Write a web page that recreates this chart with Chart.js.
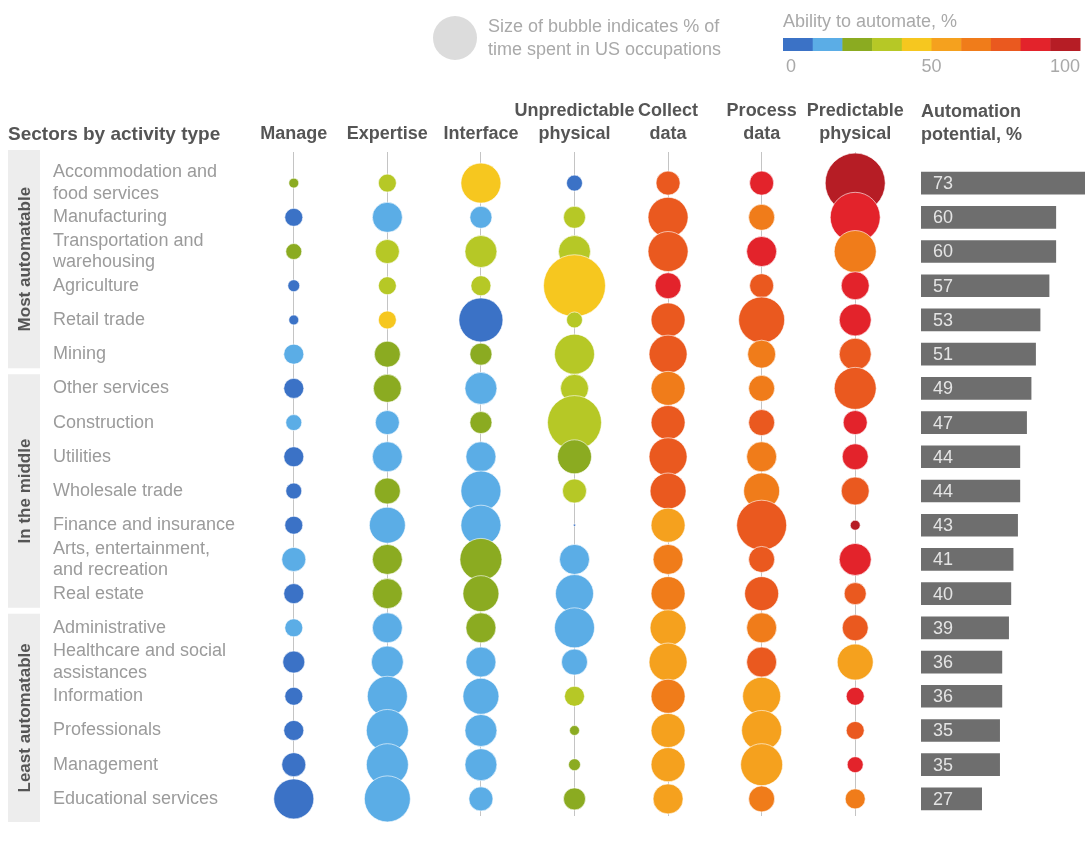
<!DOCTYPE html>
<html>
<head>
<meta charset="utf-8">
<script src="https://cdn.jsdelivr.net/npm/chart.js@4.4.0/dist/chart.umd.min.js"></script>
<style>
  body { margin: 0; background: #fff; }
  #wrap { position: relative; width: 1089px; height: 843px; }
  #bubbles, #bars { position: absolute; top: 0; }
  #bubbles { left: 0; }
  #bars { left: 905px; }
</style>
</head>
<body>
<div id="wrap">
  <canvas id="bubbles" width="1089" height="843"></canvas>
  <canvas id="bars" width="184" height="843"></canvas>
</div>
<script>
// Секторы (строки) и виды деятельности (столбцы)
const sectors = [
    ['Accommodation and', 'food services'],
    'Manufacturing',
    ['Transportation and', 'warehousing'],
    'Agriculture',
    'Retail trade',
    'Mining',
    'Other services',
    'Construction',
    'Utilities',
    'Wholesale trade',
    'Finance and insurance',
    ['Arts, entertainment,', 'and recreation'],
    'Real estate',
    'Administrative',
    ['Healthcare and social', 'assistances'],
    'Information',
    'Professionals',
    'Management',
    'Educational services'
];
const activities = ['Manage', 'Expertise', 'Interface', ['Unpredictable', 'physical'],
    ['Collect', 'data'], ['Process', 'data'], ['Predictable', 'physical']];

const groups = ['Most automatable', 'In the middle', 'Least automatable'];
const groupSizes = [6, 7, 6];

const automationPotential = [73, 60, 60, 57, 53, 51, 49, 47, 44, 44, 43, 41, 40, 39, 36, 36, 35, 35, 27];

// % времени (размер пузыря), оценка по картинке
const manageTime       = [2.0, 6.6, 5.2, 2.9, 2.0, 8.2, 8.2, 5.2, 8.2, 5.2, 6.6, 11.8, 8.2, 6.6, 9.9, 6.6, 8.2, 11.8, 32.7];
const expertiseTime    = [6.6, 18.4, 11.8, 6.6, 6.6, 13.8, 16, 11.8, 18.4, 13.8, 26.4, 18.4, 18.4, 18.4, 20.9, 32.7, 36, 36, 43.2];
const interfaceTime    = [32.7, 9.9, 20.9, 8.2, 39.5, 9.9, 20.9, 9.9, 18.4, 32.7, 32.7, 36, 26.4, 18.4, 18.4, 26.4, 20.9, 20.9, 11.8];
const unpredictTime    = [5.2, 9.9, 20.9, 78.4, 5.2, 32.7, 16, 59.5, 23.6, 11.8, 0.1, 18.4, 29.5, 32.7, 13.8, 8.2, 2.0, 2.9, 9.9];
const collectTime      = [11.8, 32.7, 32.7, 13.8, 23.6, 29.5, 23.6, 23.6, 29.5, 26.4, 23.6, 18.4, 23.6, 26.4, 29.5, 23.6, 23.6, 23.6, 18.4];
const processTime      = [11.8, 13.8, 18.4, 11.8, 43.2, 16, 13.8, 13.8, 18.4, 26.4, 51, 13.8, 23.6, 18.4, 18.4, 29.5, 32.7, 36, 13.8];
const predictTime      = [73.5, 51, 36, 16, 20.9, 20.9, 36, 11.8, 13.8, 16, 2.0, 20.9, 9.9, 13.8, 26.4, 6.6, 6.6, 5.2, 8.2];

// Способность к автоматизации, % (цвет пузыря)
const manageAuto    = [25, 5, 25, 5, 5, 15, 5, 15, 5, 5, 5, 15, 5, 15, 5, 5, 5, 5, 5];
const expertiseAuto = [35, 15, 35, 35, 45, 25, 25, 15, 15, 25, 15, 25, 25, 15, 15, 15, 15, 15, 15];
const interfaceAuto = [45, 15, 35, 35, 5, 25, 15, 25, 15, 15, 15, 25, 25, 25, 15, 15, 15, 15, 15];
const unpredictAuto = [5, 35, 35, 45, 35, 35, 35, 35, 25, 35, 5, 15, 15, 15, 15, 35, 25, 25, 25];
const collectAuto   = [75, 75, 75, 85, 75, 75, 65, 75, 75, 75, 55, 65, 65, 55, 55, 65, 55, 55, 55];
const processAuto   = [85, 65, 85, 75, 75, 65, 65, 75, 65, 65, 75, 75, 75, 65, 75, 55, 55, 55, 65];
const predictAuto   = [95, 85, 65, 85, 85, 75, 75, 85, 85, 75, 95, 85, 75, 75, 55, 85, 75, 85, 65];

const abilityColors = ['#3b72c6', '#5badE6', '#8bab21', '#b6c826', '#f6c71f',
    '#f5a11e', '#f07c1a', '#ea591f', '#e3232b', '#b61d25'];
const abilityTicks = ['0', '50', '100'];

const timeData = [manageTime, expertiseTime, interfaceTime, unpredictTime, collectTime, processTime, predictTime];
const autoData = [manageAuto, expertiseAuto, interfaceAuto, unpredictAuto, collectAuto, processAuto, predictAuto];

const FONT = "'Liberation Sans', Arial, sans-serif";
Chart.defaults.font.family = FONT;

function colorFor(v) {
    return abilityColors[Math.min(9, Math.floor(v / 10))];
}
function radiusFor(v) {
    return 3.5 * Math.sqrt(v);
}

const decorPlugin = {
    id: 'decor',
    afterDraw(chart) {
        const ctx = chart.ctx;
        const y = chart.scales.y;
        ctx.save();

        // группы слева
        let start = 0;
        groups.forEach((name, i) => {
            const end = start + groupSizes[i] - 1;
            let top = y.getPixelForValue(start - 0.5) + 3;
            let bottom = y.getPixelForValue(end + 0.5) - 3;
            if (i === 0) top -= 19;
            if (i === groups.length - 1) bottom += 9;
            ctx.fillStyle = '#ededed';
            ctx.fillRect(8, top, 32, bottom - top);
            ctx.save();
            ctx.translate(25, (top + bottom) / 2);
            ctx.rotate(-Math.PI / 2);
            ctx.fillStyle = '#555';
            ctx.font = 'bold 17px ' + FONT;
            ctx.textAlign = 'center';
            ctx.textBaseline = 'middle';
            ctx.fillText(name, 0, 0);
            ctx.restore();
            start = end + 1;
        });

        ctx.fillStyle = '#555';
        ctx.font = 'bold 19px ' + FONT;
        ctx.textAlign = 'left';
        ctx.textBaseline = 'middle';
        ctx.fillText('Sectors by activity type', 8, 135);

        // легенда размера
        ctx.fillStyle = '#dcdcdc';
        ctx.beginPath();
        ctx.arc(455, 38, 22, 0, Math.PI * 2);
        ctx.fill();
        ctx.fillStyle = '#a9a9a9';
        ctx.font = '18px ' + FONT;
        ctx.fillText('Size of bubble indicates % of', 488, 27);
        ctx.fillText('time spent in US occupations', 488, 50);

        // цветовая шкала
        const barLeft = 783, barW = 297;
        ctx.fillText('Ability to automate, %', barLeft, 22);
        const seg = barW / abilityColors.length;
        abilityColors.forEach((c, i) => {
            ctx.fillStyle = c;
            ctx.fillRect(barLeft + i * seg, 38, seg + 0.5, 13);
        });
        ctx.fillStyle = '#a9a9a9';
        abilityTicks.forEach((t, i) => {
            const frac = i / (abilityTicks.length - 1);
            ctx.textAlign = frac === 0 ? 'left' : (frac === 1 ? 'right' : 'center');
            ctx.fillText(t, barLeft + frac * barW + (frac === 0 ? 3 : 0), 67);
        });
        ctx.restore();
    }
};

new Chart(document.getElementById('bubbles').getContext('2d'), {
    type: 'bubble',
    data: {
        datasets: activities.map((a, c) => ({
            data: timeData[c].map((v, r) => ({ x: c, y: r, r: radiusFor(v) })),
            backgroundColor: autoData[c].map(colorFor),
            borderColor: 'rgba(255,255,255,0.6)',
            borderWidth: 1,
            clip: false
        }))
    },
    options: {
        responsive: false,
        animation: false,
        events: [],
        layout: { autoPadding: false, padding: { left: 53, top: 96, bottom: 27, right: 187 } },
        plugins: { legend: { display: false }, tooltip: { enabled: false } },
        scales: {
            x: {
                type: 'linear',
                position: 'top',
                min: -0.5,
                max: 6.5,
                afterBuildTicks: (s) => { s.ticks = activities.map((a, i) => ({ value: i })); },
                afterFit: (s) => { s.height = 70; s.paddingLeft = 0; s.paddingRight = 0; },
                border: { display: false },
                grid: { color: '#c4c4c4', lineWidth: 1, tickLength: 14 },
                ticks: {
                    autoSkip: false,
                    maxRotation: 0,
                    padding: 7,
                    color: '#555',
                    font: { size: 18, weight: 'bold', lineHeight: 1.25 },
                    callback: (v) => activities[v]
                }
            },
            y: {
                type: 'linear',
                reverse: true,
                min: -0.5,
                max: 18.5,
                afterBuildTicks: (s) => { s.ticks = sectors.map((a, i) => ({ value: i })); },
                afterFit: (s) => { s.width = 194; s.paddingTop = 0; s.paddingBottom = 0; },
                border: { display: false },
                grid: { display: false },
                ticks: {
                    autoSkip: false,
                    crossAlign: 'far',
                    color: '#9b9b9b',
                    font: { size: 18, lineHeight: 1.2 },
                    callback: (v) => sectors[v]
                }
            }
        }
    },
    plugins: [decorPlugin]
});

const barLabelPlugin = {
    id: 'barLabels',
    afterDraw(chart) {
        const ctx = chart.ctx;
        ctx.save();
        ctx.fillStyle = '#555';
        ctx.font = 'bold 18px ' + FONT;
        ctx.textAlign = 'left';
        ctx.textBaseline = 'middle';
        ctx.fillText('Automation', chart.chartArea.left, 112);
        ctx.fillText('potential, %', chart.chartArea.left, 135);

        ctx.fillStyle = '#e4e4e4';
        ctx.font = '18px ' + FONT;
        chart.getDatasetMeta(0).data.forEach((el, i) => {
            ctx.fillText(String(automationPotential[i]), el.base + 12, el.y + 1);
        });
        ctx.restore();
    }
};

new Chart(document.getElementById('bars').getContext('2d'), {
    type: 'bar',
    data: {
        labels: sectors,
        datasets: [{
            data: automationPotential,
            backgroundColor: '#6e6e6e',
            barThickness: 22
        }]
    },
    options: {
        indexAxis: 'y',
        responsive: false,
        animation: false,
        events: [],
        layout: { padding: { left: 16, right: 4, top: 166, bottom: 27 } },
        plugins: { legend: { display: false }, tooltip: { enabled: false } },
        scales: {
            x: { display: false, min: 0, max: 73 },
            y: { display: false }
        }
    },
    plugins: [barLabelPlugin]
});
</script>
</body>
</html>
